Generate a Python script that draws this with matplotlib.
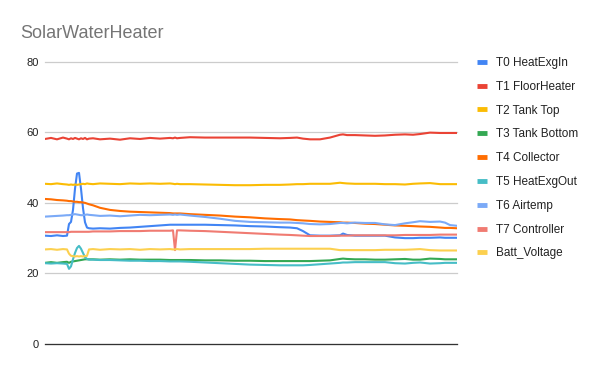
import matplotlib
matplotlib.use("Agg")
import matplotlib.pyplot as plt

plt.rcParams['font.family'] = ['Liberation Sans', 'DejaVu Sans']

# sample times (shared by every series)
t = [0, 6, 12, 18, 22, 24, 26, 28, 30, 32, 34, 36, 38, 40, 42, 44, 48, 55, 65, 75,
     85, 95, 105, 115, 125, 128, 130, 132, 135, 145, 160, 175, 190, 205, 220, 235, 245, 252, 258, 265,
     275, 285, 295, 298, 302, 310, 320, 330, 340, 350, 360, 368, 375, 385, 395, 400, 405, 412]

t0_heatexgin = [30.7, 30.6, 30.8, 30.6, 30.7, 34.0, 34.6, 38.0, 44.0, 48.3, 48.5, 44.0, 38.5, 34.5, 33.0, 32.8, 32.7, 32.8, 32.7, 32.9,
                33.0, 33.2, 33.4, 33.6, 33.8, 33.8, 33.8, 33.8, 33.8, 33.8, 33.8, 33.7, 33.6, 33.4, 33.3, 33.1, 33.0, 32.8, 32.0, 30.8,
                30.7, 30.7, 30.8, 31.3, 30.9, 30.7, 30.7, 30.7, 30.7, 30.2, 30.0, 30.0, 30.1, 30.1, 30.2, 30.1, 30.1, 30.1]
t1_floorheater = [58.1, 58.4, 58.0, 58.5, 58.2, 58.0, 58.3, 58.1, 58.4, 58.2, 58.0, 58.3, 58.1, 58.4, 58.0, 58.2, 58.3, 58.0, 58.2, 57.9,
                  58.3, 58.1, 58.4, 58.2, 58.4, 58.3, 58.5, 58.3, 58.4, 58.6, 58.5, 58.5, 58.5, 58.5, 58.4, 58.3, 58.4, 58.5, 58.2, 58.0,
                  58.0, 58.5, 59.3, 59.4, 59.2, 59.2, 59.1, 59.0, 59.1, 59.3, 59.4, 59.3, 59.5, 59.9, 59.8, 59.8, 59.8, 59.8]
t2_tanktop = [45.4, 45.3, 45.5, 45.3, 45.2, 45.1, 45.2, 45.1, 45.2, 45.1, 45.2, 45.3, 45.4, 45.3, 45.5, 45.4, 45.3, 45.5, 45.4, 45.3,
              45.5, 45.4, 45.5, 45.4, 45.5, 45.4, 45.3, 45.4, 45.3, 45.3, 45.2, 45.1, 45.0, 45.0, 45.1, 45.1, 45.2, 45.3, 45.3, 45.4,
              45.4, 45.4, 45.7, 45.6, 45.5, 45.4, 45.4, 45.4, 45.3, 45.3, 45.2, 45.4, 45.5, 45.6, 45.3, 45.3, 45.3, 45.3]
t3_tankbottom = [23.0, 23.2, 23.0, 23.2, 23.3, 23.0, 23.3, 23.4, 23.5, 23.6, 23.7, 23.8, 23.9, 24.0, 24.0, 24.0, 24.0, 23.9, 24.0, 23.9,
                 24.0, 23.9, 23.9, 23.9, 23.8, 23.8, 23.8, 23.8, 23.8, 23.8, 23.7, 23.7, 23.6, 23.6, 23.5, 23.5, 23.5, 23.5, 23.5, 23.5,
                 23.6, 23.7, 24.1, 24.2, 24.1, 24.0, 24.0, 23.9, 23.9, 24.0, 24.1, 23.9, 23.9, 24.2, 24.1, 24.0, 24.0, 24.0]
t4_collector = [41.1, 41.0, 40.8, 40.7, 40.6, 40.5, 40.5, 40.4, 40.3, 40.3, 40.2, 40.2, 40.1, 40.0, 39.8, 39.6, 39.3, 38.6, 38.0, 37.7,
                37.5, 37.4, 37.3, 37.2, 37.1, 37.0, 37.0, 37.0, 37.0, 36.8, 36.6, 36.4, 36.1, 35.9, 35.6, 35.4, 35.3, 35.1, 35.0, 34.9,
                34.7, 34.6, 34.5, 34.4, 34.4, 34.3, 34.1, 34.0, 33.8, 33.6, 33.5, 33.4, 33.3, 33.2, 33.0, 32.9, 32.9, 32.8]
t5_heatexgout = [22.9, 22.8, 22.9, 22.8, 22.7, 21.3, 22.0, 24.0, 25.8, 27.2, 27.8, 27.0, 25.8, 24.6, 24.1, 23.9, 23.9, 23.8, 23.8, 23.7,
                 23.6, 23.6, 23.5, 23.5, 23.4, 23.4, 23.4, 23.4, 23.4, 23.3, 23.1, 22.9, 22.7, 22.5, 22.4, 22.3, 22.3, 22.3, 22.3, 22.4,
                 22.6, 22.8, 23.0, 23.1, 23.1, 23.2, 23.2, 23.2, 23.2, 22.9, 22.8, 23.0, 23.1, 22.8, 22.9, 23.0, 23.0, 23.0]
t6_airtemp = [36.1, 36.2, 36.3, 36.4, 36.5, 36.5, 36.6, 36.7, 36.8, 36.7, 36.6, 36.5, 36.5, 36.6, 36.7, 36.6, 36.5, 36.3, 36.4, 36.2,
              36.4, 36.6, 36.5, 36.6, 36.7, 36.6, 36.7, 36.6, 36.7, 36.4, 36.0, 35.5, 34.9, 34.6, 34.5, 34.4, 34.4, 34.3, 34.2, 34.0,
              33.9, 34.0, 34.3, 34.3, 34.2, 34.4, 34.3, 34.3, 33.9, 33.7, 34.2, 34.5, 34.8, 34.6, 34.7, 34.4, 33.7, 33.5]
t7_controller = [31.7, 31.7, 31.7, 31.7, 31.7, 31.7, 31.8, 31.8, 31.8, 31.8, 31.8, 31.8, 31.8, 31.8, 31.8, 31.8, 31.9, 31.9, 31.9, 32.0,
                 32.0, 32.0, 32.1, 32.1, 32.1, 32.2, 26.6, 32.2, 32.2, 32.1, 32.0, 31.8, 31.6, 31.4, 31.2, 31.0, 30.9, 30.8, 30.7, 30.6,
                 30.6, 30.6, 30.7, 30.7, 30.7, 30.8, 30.8, 30.8, 30.8, 30.8, 30.9, 30.9, 30.9, 30.9, 31.0, 31.0, 31.0, 31.0]
batt_voltage = [26.8, 26.9, 26.7, 26.9, 26.8, 25.6, 25.0, 24.9, 24.8, 24.9, 24.8, 24.9, 24.8, 24.9, 25.0, 26.8, 26.9, 26.7, 26.9, 26.8,
                26.9, 26.7, 26.9, 26.8, 26.9, 26.8, 26.8, 26.9, 26.8, 26.9, 26.9, 26.9, 26.9, 26.9, 27.0, 27.0, 27.0, 27.0, 27.0, 27.0,
                27.0, 27.0, 26.6, 26.6, 26.6, 26.6, 26.6, 26.6, 26.7, 26.7, 26.7, 26.8, 26.9, 26.6, 26.5, 26.5, 26.5, 26.5]

series = [
    ('T0 HeatExgIn', t0_heatexgin, '#4285F4'),
    ('T1 FloorHeater', t1_floorheater, '#EA4335'),
    ('T2 Tank Top', t2_tanktop, '#FBBC04'),
    ('T3 Tank Bottom', t3_tankbottom, '#34A853'),
    ('T4 Collector', t4_collector, '#FF6D01'),
    ('T5 HeatExgOut', t5_heatexgout, '#46BDC6'),
    ('T6 Airtemp', t6_airtemp, '#7BAAF7'),
    ('T7 Controller', t7_controller, '#F07B72'),
    ('Batt_Voltage', batt_voltage, '#FCD04F'),
]

fig = plt.figure(figsize=(6, 3.71), dpi=100)
ax = fig.add_axes([45 / 600, 1 - 344 / 371, 412 / 600, (344 - 61.7) / 371])

for name, vals, col in series:
    ax.plot(t, vals, color=col, lw=1.5, label=name)

ax.set_xlim(0, 412)
ax.set_ylim(0, 80)
ax.set_yticks([0, 20, 40, 60, 80])
ax.set_xticks([])
ax.grid(axis='y', color='#cccccc', lw=0.9)
ax.set_axisbelow(True)
for gl in ax.get_ygridlines():
    gl.set_clip_on(False)
# dark baseline at zero
ax.axhline(0, color='#333333', lw=0.9, clip_on=False, zorder=1)
for s in ax.spines.values():
    s.set_visible(False)
ax.tick_params(axis='y', length=0, pad=4.5, labelsize=8, labelcolor='#222222')

fig.text(20 / 600, 1 - 37.5 / 371, 'SolarWaterHeater', fontsize=13, color='#757575')

leg = fig.legend(loc='upper left', bbox_to_anchor=(477 / 600, 1 - 57 / 371), frameon=False,
                 fontsize=8.5, handlelength=0.85, handletextpad=0.75, labelspacing=1.0,
                 borderpad=0, borderaxespad=0)
for h in leg.get_lines():
    h.set_linewidth(3.5)
    h.set_solid_capstyle('butt')
for txt in leg.get_texts():
    txt.set_color('#222222')

fig.savefig('out.png', dpi=100)
